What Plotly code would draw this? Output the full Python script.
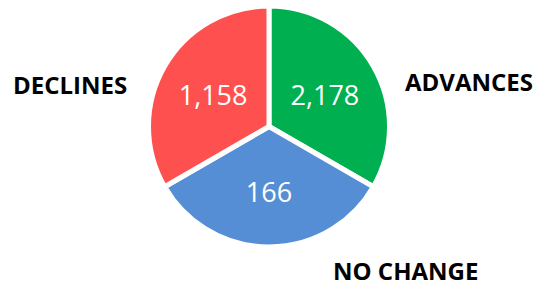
import plotly.graph_objects as go

categories = ["ADVANCES", "NO CHANGE", "DECLINES"]
counts = [2178, 166, 1158]
slice_shares = [1, 1, 1]  # slices are drawn as equal thirds in the reference
colors = ["#00B050", "#558ED5", "#FF5050"]

W, H = 542, 286
cx, cy, r = 269, 126.5, 120.5

fig = go.Figure(go.Pie(
    labels=categories,
    values=slice_shares,
    customdata=[f"{c:,}" for c in counts],
    texttemplate="%{customdata}",
    textposition="inside",
    insidetextorientation="horizontal",
    insidetextfont=dict(family="Open Sans", size=27, color="white"),
    marker=dict(colors=colors, line=dict(color="white", width=5)),
    sort=False,
    direction="clockwise",
    rotation=0,
    hoverinfo="label+text",
    showlegend=False,
    domain=dict(x=[(cx - r) / W, (cx + r) / W], y=[1 - (cy + r) / H, 1 - (cy - r) / H]),
))

label_pos = {"ADVANCES": (469, 81), "NO CHANGE": (405, 270), "DECLINES": (70, 84)}
for name in categories:
    px, py = label_pos[name]
    fig.add_annotation(
        x=px / W, y=1 - py / H, xref="paper", yref="paper",
        text=f"<b>{name}</b>", showarrow=False,
        font=dict(family="Open Sans", size=24, color="black"),
        xanchor="center", yanchor="middle",
    )

fig.update_layout(
    width=W, height=H,
    margin=dict(l=0, r=0, t=0, b=0),
    paper_bgcolor="white", plot_bgcolor="white",
)

fig.write_html(
    "out.html",
    config={"displayModeBar": False},
    post_script="document.body.style.margin='0';document.body.style.overflow='hidden';",
)
